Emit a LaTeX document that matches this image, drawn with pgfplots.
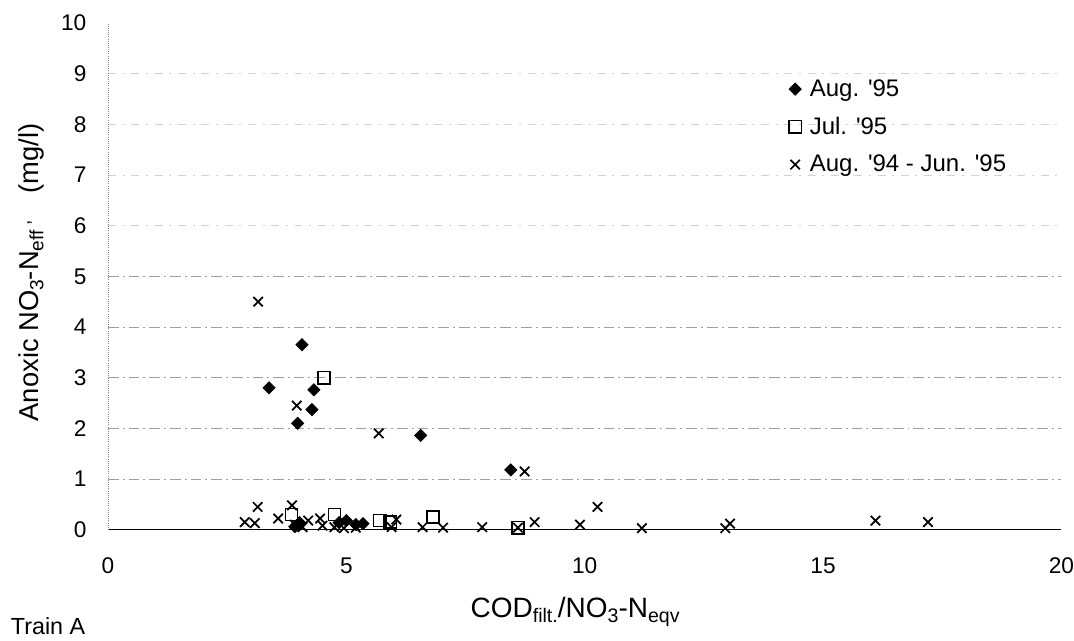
\documentclass[border=0pt]{standalone}
\usepackage{fontspec}
\setmainfont{Liberation Sans}
\usepackage{graphicx}
\usepackage{pgfplots}
\pgfplotsset{compat=1.18}
\newcommand{\sub}[1]{\raisebox{-0.35ex}{\scalebox{0.7}{#1}}}
\begin{document}
\begin{tikzpicture}
\begin{axis}[
  at={(0pt,0pt)}, anchor=origin,
  scale only axis, width=715.5pt, height=380.25pt,
  xmin=0, xmax=20, ymin=0, ymax=10,
  clip=false,
  axis lines*=left,
  x axis line style={black, line width=1.1pt},
  y axis line style={gray, densely dotted, line width=0.6pt},
  xtick={0,5,10,15,20},
  ytick={0,1,...,10},
  minor ytick={6,7,8,9},
  yminorgrids=true,
  minor grid style={gray!35, line width=0.5pt, dash pattern=on 6pt off 5pt on 1.5pt off 5pt},
  extra y ticks={1,2,...,5},
  extra y tick labels={},
  extra y tick style={ymajorgrids=true, major grid style={gray!75, line width=0.6pt, dash pattern=on 8pt off 3pt on 1.5pt off 3pt}},
  tick style={draw=none},
  /pgf/number format/assume math mode=true,
  ticklabel style={font=\fontsize{17}{20}\selectfont, inner sep=0pt},
  yticklabel style={anchor=east, xshift=-16pt},
  xticklabel style={anchor=center, yshift=-27pt},
  every axis x label/.style={at={(axis cs:9.8,-1.62)}, anchor=center, font=\fontsize{21}{24}\selectfont},
  every axis y label/.style={at={(axis cs:-1.61,5.08)}, anchor=center, rotate=90, font=\fontsize{20.5}{24}\selectfont},
  xlabel={COD\sub{filt.}/NO\sub{3}-N\sub{eqv}},
  ylabel={Anoxic NO\sub{3}-N\sub{eff}\,\raisebox{0.6ex}{\scalebox{0.7}{,}}\quad(mg/l)},
  legend style={at={(axis cs:14.27,7.95)}, anchor=west, draw=none, fill=none,
    font=\fontsize{18}{21}\selectfont, row sep=10pt, inner sep=0pt, nodes={inner sep=2pt}},
  legend cell align=left,
  legend image code/.code={\draw[#1] plot coordinates {(5pt,0pt)}; \path[draw=none,fill=none] (0pt,-4pt) (14pt,4pt);},
]
\addplot[only marks, mark=square*, mark size=3.3pt, mark options={rotate=45, fill=black, draw=black}] coordinates {
 (4.07,3.65) (3.38,2.80) (4.32,2.76) (4.28,2.37) (3.98,2.10) (6.56,1.86) (8.45,1.18)
 (3.92,0.06) (4.02,0.14) (4.85,0.14) (5.00,0.18) (5.20,0.10) (5.35,0.12)
};
\addlegendentry{Aug. \textquotesingle 95}
\addplot[only marks, mark=square, mark size=4.6pt, mark options={draw=black, line width=1.1pt, fill=white}] coordinates {
 (4.53,3.00) (3.85,0.30) (4.75,0.30) (5.70,0.18) (5.92,0.15) (6.82,0.25) (8.60,0.04)
};
\addlegendentry{Jul. \textquotesingle 95}
\addplot[only marks, mark=x, mark size=5pt, mark options={draw=black, line width=1.3pt}] coordinates {
 (3.15,4.50) (3.96,2.45) (5.68,1.90) (8.74,1.15)
 (2.87,0.15) (3.08,0.13) (3.14,0.45) (3.57,0.22) (3.86,0.48) (3.92,0.10) (4.08,0.05)
 (4.20,0.18) (4.45,0.22) (4.50,0.08) (4.75,0.05) (4.95,0.03) (5.20,0.04) (5.95,0.05)
 (6.05,0.20) (6.60,0.05) (7.03,0.04) (7.85,0.05) (8.60,0.04) (8.95,0.15) (9.90,0.10)
 (10.27,0.45) (11.20,0.03) (12.95,0.03) (13.05,0.12) (16.10,0.18) (17.20,0.15)
};
\addlegendentry{Aug. \textquotesingle 94 - Jun. \textquotesingle 95}
\node[anchor=west, inner sep=0pt, font=\fontsize{17.5}{21}\selectfont] at (axis cs:-2.04,-1.9) {Train A};
\end{axis}
\path (-81pt,-83.25pt) rectangle (724.5pt,397.5pt);
\end{tikzpicture}
\end{document}
